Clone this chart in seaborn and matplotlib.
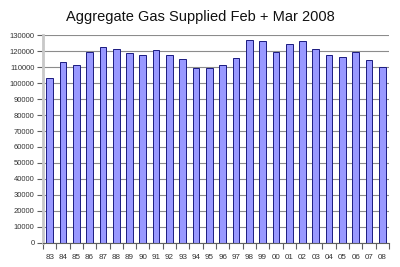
import matplotlib
matplotlib.use("Agg")
import matplotlib.pyplot as plt
import seaborn as sns
import pandas as pd
import numpy as np

years = ["83","84","85","86","87","88","89","90","91","92","93","94","95",
         "96","97","98","99","00","01","02","03","04","05","06","07","08"]
supplied = [103000,113000,111000,119500,122300,121200,118700,117500,120400,117500,114800,109300,109400,
            111000,115400,126700,126000,119400,124200,126200,121200,117500,116300,119400,114400,110200]
yticks = list(range(0, 130001, 10000))

sns.set_theme(style="white")
plt.rcParams['font.family'] = ['Liberation Sans', 'DejaVu Sans']

df = pd.DataFrame({"year": years, "supplied": supplied})

fig = plt.figure(figsize=(4.0, 2.67), dpi=100)
ax = fig.add_axes([0.1075, 0.0899, 0.865, 0.779])

sns.barplot(data=df, x="year", y="supplied", ax=ax, color="#9999FF",
            saturation=1, width=0.5, edgecolor="#1a1a80", linewidth=0.7)

ax.set_ylim(0, 130000)
ax.set_xlim(-0.5, len(years) - 0.5)
ax.set_yticks(yticks)
ax.set_yticklabels([str(v) for v in yticks])
ax.yaxis.grid(True, color="#8c8c8c", linewidth=0.8)
ax.set_axisbelow(True)
ax.set_xlabel("")
ax.set_ylabel("")

for s in ["top", "right"]:
    ax.spines[s].set_visible(False)
ax.spines["left"].set_color("#c8c8c8")
ax.spines["left"].set_linewidth(2)
ax.spines["bottom"].set_color("#606060")
ax.spines["bottom"].set_linewidth(0.8)

ax.tick_params(axis="y", length=4, width=0.8, color="#606060", labelsize=5.5,
               labelcolor="#333333", pad=2, left=True)
ax.set_xticks(np.arange(len(years)))
ax.set_xticklabels(years)
ax.set_xticks(np.arange(len(years) + 1) - 0.5, minor=True)
ax.tick_params(axis="x", which="major", length=0, labelsize=5.8, labelcolor="#333333", pad=8)
ax.tick_params(axis="x", which="minor", length=4, width=0.8, color="#606060", bottom=True)

fig.text(0.5, 0.935, "Aggregate Gas Supplied Feb + Mar 2008", ha="center", va="center",
         fontsize=10.5, color="#111111")

fig.savefig("out.png", dpi=100, facecolor="white")
